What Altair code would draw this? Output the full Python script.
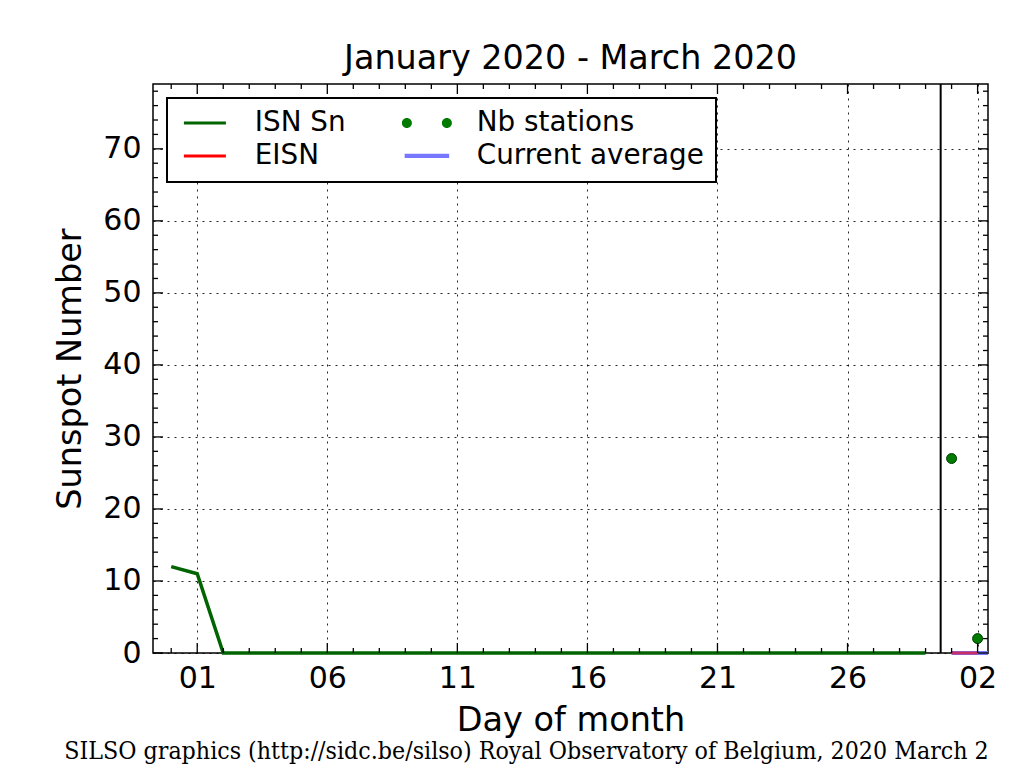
import altair as alt
import pandas as pd

# ---- data (x = days counted from 1 February 2020: -1 = Jan 31, 29 = Mar 01, 30 = Mar 02)
isn_days = [-1, 0, 1, 2, 3, 4, 5, 6, 7, 8, 9, 10, 11, 12, 13, 14, 15, 16, 17, 18, 19,
            20, 21, 22, 23, 24, 25, 26, 27, 28]
isn_values = [12, 11, 0, 0, 0, 0, 0, 0, 0, 0, 0, 0, 0, 0, 0, 0, 0, 0, 0, 0, 0,
              0, 0, 0, 0, 0, 0, 0, 0, 0]
eisn_days = [29, 30]
eisn_values = [0, 0]
avg_days = [29, 30.4]
avg_values = [0, 0]
nb_days = [29, 30]
nb_values = [27, 2]
current_day = [28.58]

series_names = ["ISN Sn", "EISN", "Nb stations", "Current average"]
series_colors = ["#006400", "#ff0000", "#007a00", "#7777ff"]

x_major = [0, 5, 10, 15, 20, 25, 30]
x_labels = ["01", "06", "11", "16", "21", "26", "02"]
x_minor = [-1, 1, 2, 3, 4, 6, 7, 8, 9, 11, 12, 13, 14, 16, 17, 18, 19, 21, 22, 23, 24,
           26, 27, 28, 29]
y_major = [0, 10, 20, 30, 40, 50, 60, 70]
y_minor = [2, 4, 6, 8, 12, 14, 16, 18, 22, 24, 26, 28, 32, 34, 36, 38, 42, 44, 46, 48,
           52, 54, 56, 58, 62, 64, 66, 68, 72, 74, 76, 78]

title_text = "January 2020 - March 2020"
x_title = "Day of month"
y_title = "Sunspot Number"
footer = "SILSO graphics (http://sidc.be/silso) Royal Observatory of Belgium, 2020 March 2"

W, H = 835, 569
FONT = "DejaVu Sans"

xs = alt.Scale(domain=[-1.7, 30.4], nice=False, zero=False)
ys = alt.Scale(domain=[0, 79], nice=False, zero=False)

labels_js = "[" + ",".join("'%s'" % l for l in x_labels) + "]"
x_axis = alt.Axis(values=x_major, labelExpr=labels_js + "[round(datum.value/5)]",
                  grid=True, ticks=False, domain=False, labelPadding=10,
                  labelBaseline="top", titleX=W / 2, titleY=77,
                  titleBaseline="alphabetic", titleAlign="center", title=x_title)
y_axis = alt.Axis(values=y_major, format="d", grid=True, ticks=False, domain=False,
                  labelPadding=12, titleX=-83, titleY=H / 2, titleAngle=270,
                  titleBaseline="middle", titleAlign="center", title=y_title)


def X():
    return alt.X("day:Q", scale=xs, axis=x_axis, title=x_title)


def Y():
    return alt.Y("value:Q", scale=ys, axis=y_axis, title=y_title)


isn_df = pd.DataFrame({"day": isn_days, "value": isn_values})
eisn_df = pd.DataFrame({"day": eisn_days, "value": eisn_values})
avg_df = pd.DataFrame({"day": avg_days, "value": avg_values})
nb_df = pd.DataFrame({"day": nb_days, "value": nb_values})
cur_df = pd.DataFrame({"day": current_day})

isn = alt.Chart(isn_df).mark_line(color="#006400", strokeWidth=3.5).encode(x=X(), y=Y())
avg = alt.Chart(avg_df).mark_line(color="#7777ff", strokeWidth=4).encode(x=X(), y=Y())
eisn = alt.Chart(eisn_df).mark_line(color="#ff0000", strokeWidth=3, opacity=0.6).encode(
    x=X(), y=Y())
cur = alt.Chart(cur_df).mark_rule(color="black", strokeWidth=2).encode(x=X())
nb = alt.Chart(nb_df).mark_circle(color="#007a00", size=100, opacity=1,
                                   stroke="#004000", strokeWidth=1).encode(x=X(), y=Y())

# inward tick marks on all four sides
xmaj_df = pd.DataFrame({"day": x_major})
xmin_df = pd.DataFrame({"day": x_minor})
ymaj_df = pd.DataFrame({"value": y_major})
ymin_df = pd.DataFrame({"value": y_minor})
tick_layers = []
for df, ln in [(xmaj_df, 10), (xmin_df, 5)]:
    tick_layers.append(alt.Chart(df).mark_rule(color="black", strokeWidth=1.3).encode(
        x=X(), y=alt.value(H), y2=alt.value(H - ln)))
    tick_layers.append(alt.Chart(df).mark_rule(color="black", strokeWidth=1.3).encode(
        x=X(), y=alt.value(0), y2=alt.value(ln)))
for df, ln in [(ymaj_df, 10), (ymin_df, 5)]:
    tick_layers.append(alt.Chart(df).mark_rule(color="black", strokeWidth=1.3).encode(
        y=Y(), x=alt.value(0), x2=alt.value(ln)))
    tick_layers.append(alt.Chart(df).mark_rule(color="black", strokeWidth=1.3).encode(
        y=Y(), x=alt.value(W), x2=alt.value(W - ln)))

# legend frame (white box under the legend entries)
box = alt.Chart(pd.DataFrame({"b": [0]})).mark_rect(
    fill="white", stroke="black", strokeWidth=2).encode(
    x=alt.value(14), x2=alt.value(563), y=alt.value(14), y2=alt.value(98))

# legend carrier (invisible marks, legend only)
line_path = "M-1.68,-0.12H1.68V0.12H-1.68Z"
blue_path = "M-1.78,-0.17H1.78V0.17H-1.78Z"
dots_path = ("M-2.0,0A0.4,0.4 0 1,0 -1.2,0A0.4,0.4 0 1,0 -2.0,0Z"
             "M1.2,0A0.4,0.4 0 1,0 2.0,0A0.4,0.4 0 1,0 1.2,0Z")
legend_df = pd.DataFrame({"series": series_names})
leg = alt.Legend(symbolOpacity=1, symbolStrokeWidth=0, symbolSize=625)
legend_layer = alt.Chart(legend_df).mark_point(filled=True, opacity=0, size=625).encode(
    color=alt.Color("series:N", scale=alt.Scale(domain=series_names, range=series_colors),
                    legend=leg, title=None),
    shape=alt.Shape("series:N", scale=alt.Scale(domain=series_names,
                                                range=[line_path, line_path, dots_path, blue_path]),
                    legend=leg, title=None),
)

foot = alt.Chart(pd.DataFrame({"t": [footer]})).mark_text(
    font="DejaVu Serif Condensed", fontSize=24.7, color="black", align="center",
    baseline="middle").encode(text="t:N", x=alt.value(373.5), y=alt.value(668))

chart = alt.layer(box, isn, avg, eisn, cur, nb, *tick_layers, legend_layer, foot).properties(
    width=W, height=H,
    title=alt.TitleParams(title_text, font=FONT, fontSize=33.4, fontWeight="normal",
                          color="black", offset=15, baseline="alphabetic", dy=34,
                          frame="group", anchor="middle"),
    autosize=alt.AutoSizeParams(type="none"),
    padding={"left": 145, "top": 76, "right": 34, "bottom": 118},
    background="white",
).configure_view(stroke="black", strokeWidth=1.5).configure_axis(
    labelFont=FONT, labelFontSize=30, labelColor="black",
    titleFont=FONT, titleFontSize=33.5, titleColor="black", titleFontWeight="normal",
    gridColor="#000000", gridDash=[2, 5], gridWidth=1, gridOpacity=0.85,
).configure_legend(
    orient="none", legendX=14, legendY=14, columns=2, padding=11,
    rowPadding=4, columnPadding=54, symbolOffset=13, labelOffset=36,
    labelFont=FONT, labelFontSize=27.8, labelColor="black", labelLimit=500,
)

chart.save("out.html", embed_options={"renderer": "svg", "actions": False})
